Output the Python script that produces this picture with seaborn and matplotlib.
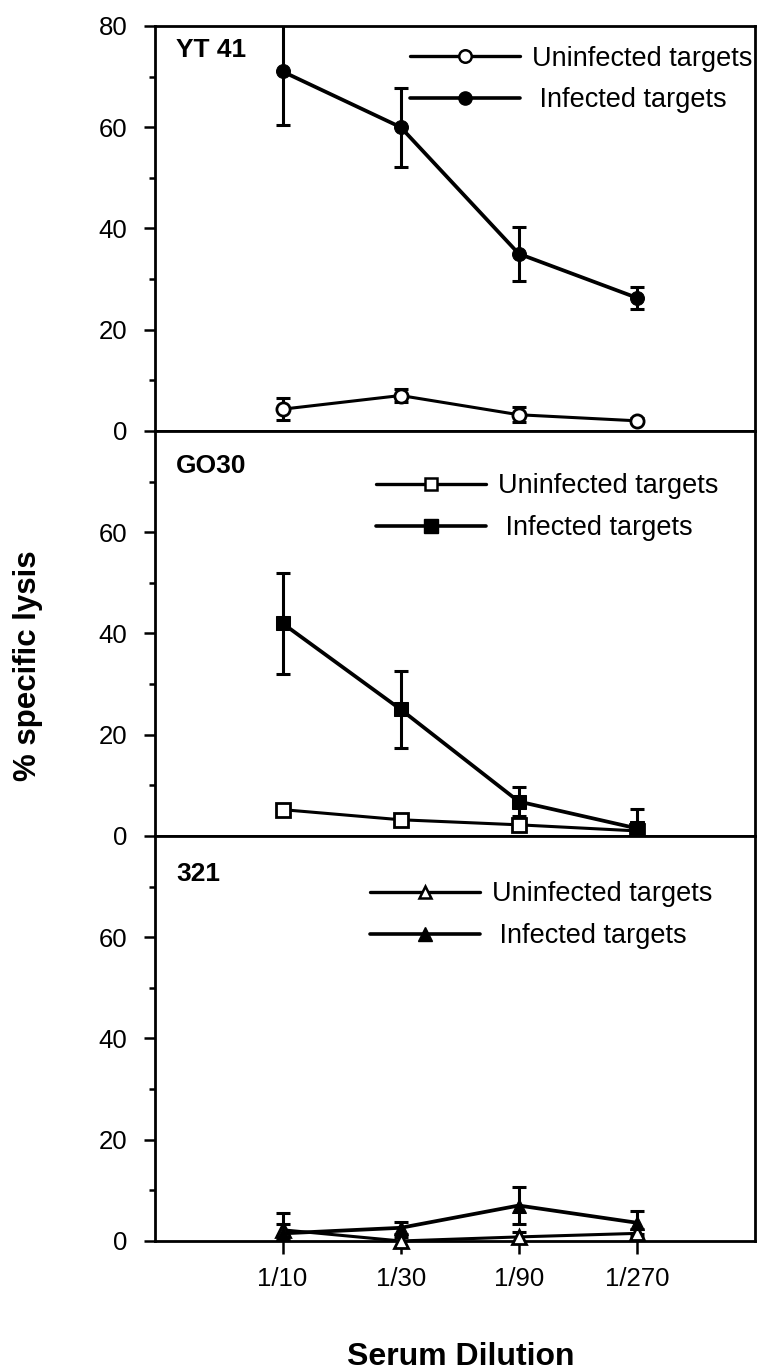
import matplotlib
matplotlib.use("Agg")
import matplotlib.pyplot as plt
from matplotlib.lines import Line2D
import pandas as pd
import seaborn as sns

# x categories and panel names
dilutions = ["1/10", "1/30", "1/90", "1/270"]
panels = ["YT 41", "GO30", "321"]
markers = ["o", "s", "^"]

# % specific lysis, mean and error
yt41_uninf = [4.3, 7.0, 3.2, 2.0]
yt41_uninf_err = [2.2, 1.3, 1.5, 0.5]
yt41_inf = [71.0, 60.0, 35.0, 26.3]
yt41_inf_err = [10.5, 7.8, 5.3, 2.2]

go30_uninf = [5.2, 3.2, 2.2, 1.0]
go30_uninf_err = [0.6, 0.5, 0.5, 0.3]
go30_inf = [42.0, 25.0, 6.8, 1.5]
go30_inf_err = [10.0, 7.6, 2.8, 3.8]

s321_uninf = [2.2, 0.0, 0.8, 1.5]
s321_uninf_err = [1.2, 0.8, 1.0, 0.8]
s321_inf = [1.5, 2.6, 7.0, 3.6]
s321_inf_err = [4.0, 1.2, 3.6, 2.3]

uninf = [yt41_uninf, go30_uninf, s321_uninf]
uninf_err = [yt41_uninf_err, go30_uninf_err, s321_uninf_err]
inf = [yt41_inf, go30_inf, s321_inf]
inf_err = [yt41_inf_err, go30_inf_err, s321_inf_err]

sns.set_theme(style="ticks")
plt.rcParams['font.family'] = ['Liberation Sans', 'DejaVu Sans']
for k in ['text.color', 'axes.edgecolor', 'axes.labelcolor', 'xtick.color', 'ytick.color']:
    plt.rcParams[k] = 'black'

fig = plt.figure(figsize=(7.59, 13.72), dpi=100)
bottoms = [0.6859, 0.3907, 0.0955]
leg_pos = [(0.425, 0.951), (0.368, 0.895), (0.358, 0.888)]
label_y = [0.941, 0.914, 0.906]

for i, name in enumerate(panels):
    ax = fig.add_axes([0.2042, bottoms[i], 0.7905, 0.2952])
    pos = list(range(len(dilutions)))
    df = pd.DataFrame({"pos": pos, "uninf": uninf[i], "inf": inf[i],
                       "uerr": uninf_err[i], "ierr": inf_err[i]})

    ax.errorbar(df["pos"], df["inf"], yerr=df["ierr"], fmt="none", ecolor="black",
                elinewidth=2.2, capsize=5, capthick=2.2, zorder=2)
    ax.errorbar(df["pos"], df["uninf"], yerr=df["uerr"], fmt="none", ecolor="black",
                elinewidth=2.2, capsize=5, capthick=2.2, zorder=2)
    sns.lineplot(data=df, x="pos", y="inf", ax=ax, color="black", lw=2.7,
                 marker=markers[i], markersize=10, markerfacecolor="black",
                 markeredgecolor="black", zorder=4, clip_on=False)
    sns.lineplot(data=df, x="pos", y="uninf", ax=ax, color="black", lw=2.2,
                 marker=markers[i], markersize=9.5, markerfacecolor="white",
                 markeredgecolor="black", markeredgewidth=2, zorder=3, clip_on=False)

    ax.set_xlim(-1.08, 4.0)
    ax.set_ylim(0, 80)
    ax.set_yticks([0, 20, 40, 60, 80] if i == 0 else [0, 20, 40, 60])
    ax.set_yticks([10, 30, 50, 70], minor=True)
    ax.set_xticks(pos)
    ax.set_xticklabels(dilutions)
    ax.set_xlabel("")
    ax.set_ylabel("")
    ax.tick_params(axis="y", which="major", length=8, width=1.8, pad=12, labelsize=18.5)
    ax.tick_params(axis="y", which="minor", length=4.5, width=1.8)
    ax.tick_params(axis="x", length=9.5, width=1.8, pad=9, labelsize=18.5)
    if i < 2:
        ax.tick_params(axis="x", bottom=False, labelbottom=False)
    for s in ax.spines.values():
        s.set_visible(True)
        s.set_linewidth(2.0)
        s.set_color("black")

    ax.text(0.035, label_y[i], name, transform=ax.transAxes, ha="left", va="center",
            fontsize=19, fontweight="bold")

    handles = [
        Line2D([], [], color="black", lw=2.4, marker=markers[i], markersize=9,
               markerfacecolor="white", markeredgecolor="black", markeredgewidth=1.8),
        Line2D([], [], color="black", lw=2.6, marker=markers[i], markersize=9.5,
               markerfacecolor="black", markeredgecolor="black"),
    ]
    ax.legend(handles, ["Uninfected targets", " Infected targets"], loc="upper left",
              bbox_to_anchor=leg_pos[i], frameon=False, fontsize=19.5,
              handlelength=4.07, handletextpad=0.45, labelspacing=0.58,
              borderpad=0, borderaxespad=0)

fig.text(0.037, 0.5146, "% specific lysis", rotation=90, ha="center", va="center",
         fontsize=22.5, fontweight="bold")
fig.text(0.607, 0.0051, "Serum Dilution", ha="center", va="baseline",
         fontsize=23, fontweight="bold")

fig.savefig("out.png", dpi=100)
